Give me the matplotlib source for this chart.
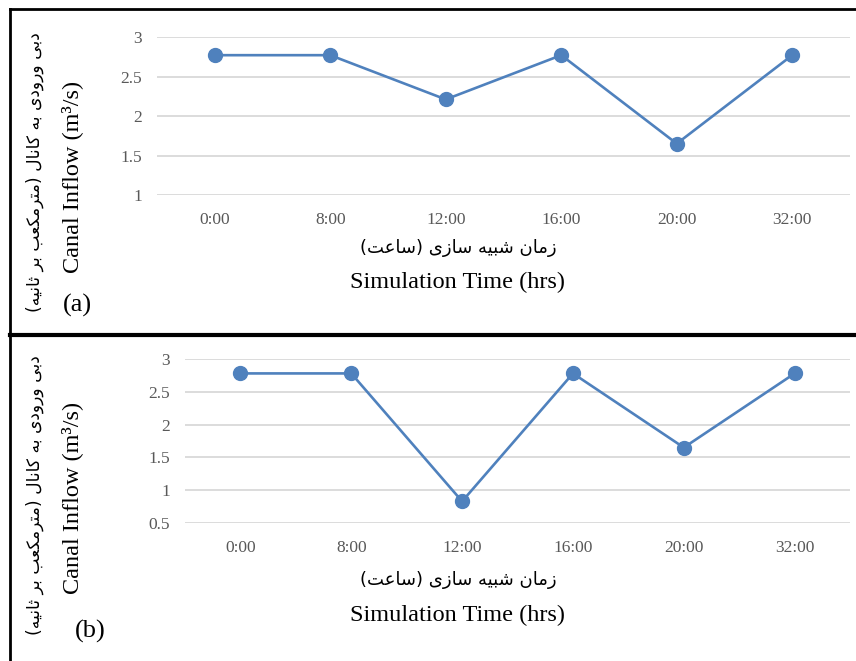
import matplotlib
matplotlib.use('Agg')
import matplotlib.pyplot as plt
from matplotlib.lines import Line2D

# data
times = ['0:00', '8:00', '12:00', '16:00', '20:00', '32:00']
flow_a = [2.77, 2.77, 2.21, 2.77, 1.65, 2.77]
flow_b = [2.78, 2.78, 0.83, 2.78, 1.65, 2.78]
yticks_a = [1, 1.5, 2, 2.5, 3]
yticks_b = [0.5, 1, 1.5, 2, 2.5, 3]

xlabel_fa = 'زمان شبیه سازی (ساعت)'
ylabel_fa = 'دبی ورودی به کانال (مترمکعب بر ثانیه)'
xlabel_en = 'Simulation Time (hrs)'
ylabel_en = 'Canal Inflow (m³/s)'

# simple Persian shaping (presentation forms) since matplotlib has no bidi
forms = {
    'ا': ('\uFE8D', '\uFE8E', None, None),
    'د': ('\uFEA9', '\uFEAA', None, None),
    'ر': ('\uFEAD', '\uFEAE', None, None),
    'ز': ('\uFEAF', '\uFEB0', None, None),
    'و': ('\uFEED', '\uFEEE', None, None),
    'ب': ('\uFE8F', '\uFE90', '\uFE91', '\uFE92'),
    'ت': ('\uFE95', '\uFE96', '\uFE97', '\uFE98'),
    'ث': ('\uFE99', '\uFE9A', '\uFE9B', '\uFE9C'),
    'س': ('\uFEB1', '\uFEB2', '\uFEB3', '\uFEB4'),
    'ش': ('\uFEB5', '\uFEB6', '\uFEB7', '\uFEB8'),
    'ع': ('\uFEC9', '\uFECA', '\uFECB', '\uFECC'),
    'ل': ('\uFEDD', '\uFEDE', '\uFEDF', '\uFEE0'),
    'م': ('\uFEE1', '\uFEE2', '\uFEE3', '\uFEE4'),
    'ن': ('\uFEE5', '\uFEE6', '\uFEE7', '\uFEE8'),
    'ه': ('\uFEE9', '\uFEEA', '\uFEEB', '\uFEEC'),
    'ی': ('\uFBFC', '\uFBFD', '\uFBFE', '\uFBFF'),
    'ک': ('\uFB8E', '\uFB8F', '\uFB90', '\uFB91'),
}


def fa(s):
    out = []
    for i, ch in enumerate(s):
        if ch not in forms:
            out.append(ch)
            continue
        prev = s[i - 1] if i > 0 else ''
        nxt = s[i + 1] if i < len(s) - 1 else ''
        f = forms[ch]
        join_prev = prev in forms and forms[prev][2] is not None
        join_next = f[2] is not None and nxt in forms
        if join_prev and join_next:
            out.append(f[3])
        elif join_prev:
            out.append(f[1])
        elif join_next:
            out.append(f[2])
        else:
            out.append(f[0])
    vis = ''.join(out)[::-1]
    return vis.translate(str.maketrans('()', ')('))


serif = 'Liberation Serif'
blue = '#4F81BD'

fig = plt.figure(figsize=(8.56, 6.61), dpi=100)


def panel(rect, vals, yt, letter, fa_y, en_y, letter_pos, xl_y):
    ax = fig.add_axes(rect)
    x = range(len(times))
    ax.plot(x, vals, color=blue, lw=1.9, marker='o', ms=10, clip_on=False, zorder=3)
    ax.set_xlim(-0.5, len(times) - 0.5)
    ax.set_ylim(yt[0], yt[-1])
    ax.set_yticks(yt)
    ax.set_yticklabels([f'{v:g}' for v in yt])
    ax.set_xticks(list(x))
    ax.set_xticklabels(times)
    ax.grid(axis='y', color='#D9D9D9', lw=1.3)
    ax.set_axisbelow(True)
    for sp in ax.spines.values():
        sp.set_visible(False)
    ax.tick_params(length=0, labelsize=12.5, labelcolor='#595959', pad=12)
    for t in ax.get_xticklabels() + ax.get_yticklabels():
        t.set_fontfamily(serif)
    ax.tick_params(axis='y', pad=11)
    # axis titles
    fig.text(0.535, xl_y, fa(xlabel_fa), ha='center', va='center',
             fontsize=13, family='DejaVu Sans')
    fig.text(0.535, xl_y - 0.053, xlabel_en, ha='center', va='center',
             fontsize=17.5, family=serif)
    fig.text(0.041, fa_y, fa(ylabel_fa), rotation=90, ha='center', va='center',
             fontsize=12.3, family='DejaVu Sans')
    fig.text(0.084, en_y, ylabel_en, rotation=90, ha='center',
             va='center', fontsize=17.5, family=serif)
    fig.text(letter_pos[0], letter_pos[1], letter, ha='center', va='center',
             fontsize=19, family=serif)
    return ax


panel([0.1834, 0.705, 0.8096, 0.239], flow_a, yticks_a, '(a)',
      0.740, 0.732, (0.091, 0.538), 0.625)
panel([0.2161, 0.2088, 0.777, 0.2481], flow_b, yticks_b, '(b)',
      0.251, 0.2466, (0.105, 0.044), 0.122)

# frame lines around the two panels
fig.add_artist(Line2D([0.0117, 1], [0.9864, 0.9864], color='black', lw=2))
fig.add_artist(Line2D([0.0117, 1], [0.4932, 0.4932], color='black', lw=3))
fig.add_artist(Line2D([0.0117, 0.0117], [0, 0.9864], color='black', lw=2))

fig.savefig('out.png', dpi=100)
